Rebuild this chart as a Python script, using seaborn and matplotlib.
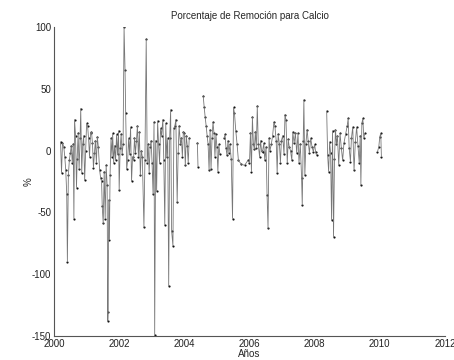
import numpy as np
import pandas as pd
import matplotlib
matplotlib.use("Agg")
import matplotlib.pyplot as plt
import seaborn as sns

# ---- data: decimal year, removal percentage (segments separated by gaps) ----
years_a = [2000.20, 2000.23, 2000.26, 2000.30, 2000.33, 2000.36, 2000.39, 2000.41, 2000.44, 2000.47,
           2000.50, 2000.53, 2000.56, 2000.59, 2000.61, 2000.63, 2000.66, 2000.69, 2000.71, 2000.74,
           2000.77, 2000.80, 2000.82, 2000.85, 2000.88, 2000.91, 2000.94, 2000.97, 2001.00, 2001.03,
           2001.06, 2001.09, 2001.12, 2001.15, 2001.18, 2001.21, 2001.24, 2001.27, 2001.30, 2001.33,
           2001.36, 2001.40, 2001.43, 2001.46, 2001.48, 2001.51, 2001.54, 2001.57, 2001.60, 2001.63,
           2001.65, 2001.66, 2001.68, 2001.70, 2001.72, 2001.75, 2001.78, 2001.80, 2001.83, 2001.86,
           2001.89, 2001.92, 2001.95, 2001.98, 2002.00, 2002.03, 2002.06, 2002.09, 2002.12, 2002.15,
           2002.18, 2002.20, 2002.23, 2002.26, 2002.29, 2002.32, 2002.35, 2002.38, 2002.41, 2002.44,
           2002.47, 2002.50, 2002.53, 2002.56, 2002.59, 2002.62, 2002.65, 2002.68, 2002.71, 2002.76,
           2002.79, 2002.83, 2002.86, 2002.89, 2002.92, 2002.95, 2002.98, 2003.01, 2003.04, 2003.07,
           2003.09, 2003.12, 2003.15, 2003.18, 2003.21, 2003.24, 2003.27, 2003.30, 2003.34, 2003.37,
           2003.40, 2003.43, 2003.46, 2003.49, 2003.52, 2003.55, 2003.58, 2003.61, 2003.65, 2003.68,
           2003.71, 2003.74, 2003.78, 2003.81, 2003.84, 2003.88, 2003.91, 2003.94, 2003.97, 2004.00,
           2004.03, 2004.06, 2004.09, 2004.12, 2004.15]
vals_a = [7, -18, 6, 3, -5, -16, -35, -90, -20, -8,
          -2, 4, -10, 5, -55, 25, 12, -30, -7, 14,
          -15, 10, 34, -18, 5, 12, -24, 0, 22, 20,
          10, -5, 14, 15, 6, -14, -2, 8, -10, 11,
          3, -16, -22, -25, -45, -59, -17, -55, -12, -28,
          -138, -131, -40, -72, -20, 10, -5, 14, -10, 4,
          -8, 13, -3, 16, -32, 2, 13, -3, 5, 100,
          65, 30, -15, -8, 10, -3, 19, -25, -5, -8,
          10, -2, 8, 20, -5, 15, -20, 0, -5, -62,
          -8, 90, -10, 5, -18, 3, 8, -10, -35, 23,
          -149, 8, -33, 24, 5, -10, 18, 12, 25, -8,
          -60, 22, -5, 10, -110, 10, 33, -65, -77, 18,
          20, 25, -42, -2, 20, 5, 10, -5, 15, 14,
          -12, 12, 4, -10, 10]

years_b = [2004.40, 2004.42]
vals_b = [6, -13]

years_c = [2004.58, 2004.61, 2004.64, 2004.67, 2004.70, 2004.73, 2004.76, 2004.79, 2004.82, 2004.85,
           2004.88, 2004.91, 2004.94, 2004.97, 2005.00, 2005.03, 2005.06, 2005.09]
vals_c = [44, 35, 27, 20, 12, 5, -16, 17, -15, 10,
          23, 14, -5, 13, 3, -17, 5, -3]

years_d = [2005.22, 2005.25, 2005.28, 2005.31, 2005.34, 2005.37, 2005.40, 2005.44, 2005.48, 2005.51,
           2005.54, 2005.58, 2005.62, 2005.66, 2005.75, 2005.85, 2005.95, 2006.00, 2006.03, 2006.06,
           2006.09, 2006.12, 2006.15, 2006.18, 2006.21, 2006.24, 2006.27, 2006.31, 2006.34, 2006.37,
           2006.40, 2006.44, 2006.47, 2006.51, 2006.54, 2006.57, 2006.60, 2006.63, 2006.67, 2006.71,
           2006.75, 2006.78, 2006.82, 2006.85, 2006.88, 2006.92, 2006.95, 2006.98, 2007.02, 2007.06,
           2007.09, 2007.12, 2007.16, 2007.19, 2007.22, 2007.26, 2007.30, 2007.33, 2007.37, 2007.41,
           2007.45, 2007.49, 2007.52, 2007.56, 2007.60, 2007.62, 2007.65, 2007.67, 2007.70, 2007.73,
           2007.77, 2007.80, 2007.84, 2007.88, 2007.92, 2007.96, 2008.00, 2008.03, 2008.06]
vals_d = [10, 13, 2, -4, 8, -2, 5, -7, -55, 35,
          30, 16, 5, -8, -11, -12, -8, -10, 14, -17,
          27, 5, 1, 15, 2, 36, 5, -5, 8, 0,
          -1, 6, -8, 3, -36, -63, 10, 0, 5, 12,
          23, 20, 8, -18, 13, 5, -10, 8, 12, -3,
          29, 25, -10, 9, 3, 0, -8, 15, 6, 14,
          -2, 14, -10, 5, -22, -44, 8, 41, -20, 5,
          17, 8, -2, 10, 3, -1, 5, -1, -4]

years_e = [2008.37, 2008.40, 2008.43, 2008.46, 2008.49, 2008.52, 2008.55, 2008.58, 2008.61, 2008.64,
           2008.67, 2008.70, 2008.74, 2008.78, 2008.82, 2008.86, 2008.90, 2008.95, 2009.00, 2009.03,
           2009.06, 2009.10, 2009.13, 2009.17, 2009.21, 2009.25, 2009.29, 2009.33, 2009.37, 2009.40,
           2009.42, 2009.45, 2009.48, 2009.51, 2009.54]
vals_e = [32, -4, -17, 7, -2, -56, 16, -70, -7, 17,
          5, 12, -12, 14, 2, -8, 6, 13, 20, 26,
          2, -9, 10, 19, -16, 7, 19, 4, -10, 12,
          -28, 22, 26, 10, 14]

years_f = [2009.93, 2009.97, 2010.00, 2010.03, 2010.05]
vals_f = [-1, 3, 11, 14, -5]

segments = [(years_a, vals_a), (years_b, vals_b), (years_c, vals_c),
            (years_d, vals_d), (years_e, vals_e), (years_f, vals_f)]
df = pd.concat([pd.DataFrame({"year": y, "pct": v, "seg": i})
                for i, (y, v) in enumerate(segments)], ignore_index=True)

# ---- figure ----
sns.set_theme(style="white")
plt.rcParams["font.family"] = ["Liberation Sans", "DejaVu Sans"]

fig = plt.figure(figsize=(4.54, 3.60), dpi=100)
ax = fig.add_axes([0.119, 0.067, 0.861, 0.858])

sns.lineplot(data=df, x="year", y="pct", units="seg", estimator=None,
             color="#777777", linewidth=0.6, sort=False, ax=ax, legend=False)
sns.scatterplot(data=df, x="year", y="pct", color="#111111", s=2.5, linewidth=0,
                ax=ax, legend=False)

ax.set_xlim(2000, 2012)
ax.set_ylim(-150, 100)
ax.set_xticks([2000, 2002, 2004, 2006, 2008, 2010, 2012])
ax.set_yticks([-150, -100, -50, 0, 50, 100])
ax.set_xticklabels(["2000", "2002", "2004", "2006", "2008", "2010", "2012"])
ax.set_yticklabels(["-150", "-100", "-50", "0", "50", "100"])

for side in ["top", "right"]:
    ax.spines[side].set_visible(False)
for side in ["left", "bottom"]:
    ax.spines[side].set_color("#555555")
    ax.spines[side].set_linewidth(0.8)

ax.tick_params(axis="both", direction="in", length=3, width=0.7, colors="#555555",
               labelsize=7, labelcolor="#222222", pad=2)
ax.set_title("Porcentaje de Remoción para Calcio", fontsize=7, pad=6)
ax.set_xlabel("Años", fontsize=7, labelpad=0)
ax.set_ylabel("%", fontsize=7, labelpad=-1)
ax.grid(False)

fig.savefig("out.png", dpi=100, facecolor="white")
